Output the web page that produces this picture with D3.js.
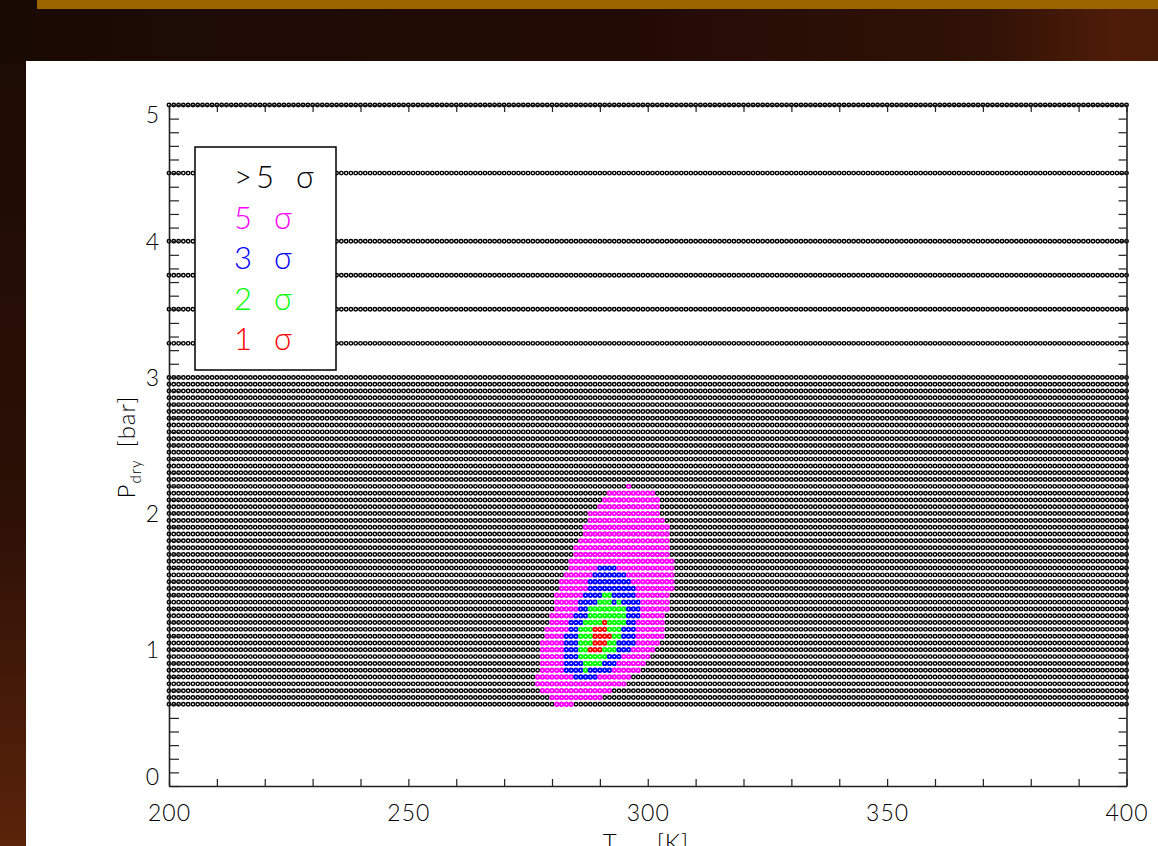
<!DOCTYPE html>
<html>
<head>
<meta charset="utf-8">
<script src="https://cdn.jsdelivr.net/npm/d3@7"></script>
<style>
  body { margin: 0; background: #fff; }
  svg text { font-family: "Lato", "DejaVu Sans", sans-serif; font-weight: 300; }
</style>
</head>
<body>
<svg id="chart" width="1158" height="846"></svg>
<script>
// model grid: surface temperature columns and dry-pressure rows
var tempTicks = [200, 250, 300, 350, 400];
var pressTicks = [0, 1, 2, 3, 4, 5];
var tempGrid = d3.range(200, 401, 1);
var pressRows = [5.0, 4.5, 4.0, 3.75, 3.5, 3.25,
  3.0, 2.95, 2.9, 2.85, 2.8, 2.75, 2.7, 2.65, 2.6, 2.55, 2.5, 2.45, 2.4, 2.35, 2.3, 2.25,
  2.2, 2.15, 2.1, 2.05, 2.0, 1.95, 1.9, 1.85, 1.8, 1.75, 1.7, 1.65, 1.6, 1.55, 1.5, 1.45,
  1.4, 1.35, 1.3, 1.25, 1.2, 1.15, 1.1, 1.05, 1.0, 0.95, 0.9, 0.85, 0.8, 0.75, 0.7, 0.65, 0.6];

// confidence regions: [pressure, Tmin, Tmax] per row
var sigma5 = [
  [2.2, 296, 296], [2.15, 292, 301], [2.1, 291, 302], [2.05, 290, 302], [2.0, 288, 302],
  [1.95, 288, 303], [1.9, 287, 304], [1.85, 287, 304], [1.8, 286, 304], [1.75, 285, 304],
  [1.7, 285, 304], [1.65, 284, 305], [1.6, 284, 305], [1.55, 283, 305], [1.5, 282, 305],
  [1.45, 282, 305], [1.4, 281, 304], [1.35, 281, 304], [1.3, 281, 304], [1.25, 280, 303],
  [1.2, 280, 303], [1.15, 279, 303], [1.1, 279, 303], [1.05, 278, 302], [1.0, 278, 301],
  [0.95, 278, 300], [0.9, 278, 299], [0.85, 278, 298], [0.8, 277, 296], [0.75, 277, 295],
  [0.7, 278, 292], [0.65, 280, 290], [0.6, 281, 284]];
var sigma3 = [
  [1.6, 290, 293], [1.55, 289, 295], [1.5, 288, 296], [1.45, 288, 297], [1.4, 287, 297],
  [1.35, 286, 298], [1.3, 286, 298], [1.25, 285, 298], [1.2, 284, 297], [1.15, 284, 297],
  [1.1, 283, 297], [1.05, 283, 297], [1.0, 283, 296], [0.95, 283, 294], [0.9, 283, 293],
  [0.85, 283, 292], [0.8, 285, 289]];
var sigma2 = [
  [1.4, 291, 292], [1.35, 290, 292], [1.35, 294, 294], [1.3, 288, 295], [1.25, 288, 295],
  [1.2, 287, 295], [1.15, 286, 294], [1.1, 286, 294], [1.05, 286, 293], [1.0, 286, 293],
  [0.95, 286, 291], [0.9, 287, 290], [0.85, 287, 287]];
var sigma1 = [
  [1.2, 291, 291], [1.15, 289, 291], [1.1, 289, 292], [1.05, 289, 291], [1.0, 288, 290]];

var legendNums = [">5", "5", "3", "2", "1"];
var legendColors = ["#000000", "#ff00ff", "#0000ff", "#00ff00", "#ff0000"];

var svg = d3.select("#chart");

// slide background
var defs = svg.append("defs");
var gTop = defs.append("linearGradient").attr("id", "topband");
gTop.append("stop").attr("offset", "0%").attr("stop-color", "#1a0a04");
gTop.append("stop").attr("offset", "55%").attr("stop-color", "#230b05");
gTop.append("stop").attr("offset", "85%").attr("stop-color", "#301206");
gTop.append("stop").attr("offset", "96%").attr("stop-color", "#4e1c08");
gTop.append("stop").attr("offset", "100%").attr("stop-color", "#4a1c08");
var gLeft = defs.append("linearGradient").attr("id", "leftband")
  .attr("x1", 0).attr("y1", 0).attr("x2", 0).attr("y2", 1);
gLeft.append("stop").attr("offset", "0%").attr("stop-color", "#1a0a04");
gLeft.append("stop").attr("offset", "60%").attr("stop-color", "#2c1006");
gLeft.append("stop").attr("offset", "100%").attr("stop-color", "#5a230a");

svg.append("rect").attr("x", 0).attr("y", 0).attr("width", 1158).attr("height", 846).attr("fill", "url(#leftband)");
svg.append("rect").attr("x", 0).attr("y", 0).attr("width", 1158).attr("height", 61).attr("fill", "url(#topband)");
svg.append("rect").attr("x", 37).attr("y", 0).attr("width", 1121).attr("height", 9).attr("fill", "#9c6500");
svg.append("rect").attr("x", 26).attr("y", 61).attr("width", 1132).attr("height", 785).attr("fill", "#ffffff");

var x = d3.scaleLinear().domain([200, 400]).range([169, 1126.5]);
var y = d3.scaleLinear().domain([0, 5]).range([786, 105]);

// colour lookup for each grid point
function regionColor(p, t) {
  var sets = [[sigma1, "#ff0000"], [sigma2, "#00ff00"], [sigma3, "#0000ff"], [sigma5, "#ff00ff"]];
  for (var s = 0; s < sets.length; s++) {
    var rows = sets[s][0];
    for (var k = 0; k < rows.length; k++) {
      if (Math.abs(rows[k][0] - p) < 1e-6 && t >= rows[k][1] && t <= rows[k][2]) return sets[s][1];
    }
  }
  return null;
}

var points = [];
pressRows.forEach(function(p) {
  tempGrid.forEach(function(t) {
    points.push({p: p, t: t, c: regionColor(p, t)});
  });
});

var dots = svg.append("g").attr("class", "dots");
dots.selectAll("circle.black")
  .data(points.filter(function(d) { return !d.c; }))
  .enter().append("circle")
  .attr("class", "black")
  .attr("cx", function(d) { return x(d.t); })
  .attr("cy", function(d) { return y(d.p); })
  .attr("r", 1.75)
  .attr("fill", "none")
  .attr("stroke", "#000")
  .attr("stroke-width", 1.45);
dots.selectAll("circle.col")
  .data(points.filter(function(d) { return d.c; }))
  .enter().append("circle")
  .attr("class", "col")
  .attr("cx", function(d) { return x(d.t); })
  .attr("cy", function(d) { return y(d.p); })
  .attr("r", 1.75)
  .attr("fill", "none")
  .attr("stroke", function(d) { return d.c; })
  .attr("stroke-width", 1.9);

// axes, ticks pointing inward
var minorT = d3.range(20, 41).map(function(i) { return i * 10; });
var minorP = d3.range(0, 51).map(function(i) { return i / 10; });
var fmtT = function(d) { return tempTicks.indexOf(d) >= 0 ? d : ""; };
var fmtP = function(d) { return Math.abs(d - Math.round(d)) < 1e-6 && pressTicks.indexOf(Math.round(d)) >= 0 ? Math.round(d) : ""; };

var axB = svg.append("g").attr("transform", "translate(0,786)")
  .call(d3.axisBottom(x).tickValues(minorT).tickSizeInner(-7).tickSizeOuter(0).tickPadding(19).tickFormat(fmtT));
var axT = svg.append("g").attr("transform", "translate(0,105)")
  .call(d3.axisTop(x).tickValues(minorT).tickSizeInner(-7).tickSizeOuter(0).tickFormat(""));
var axL = svg.append("g").attr("transform", "translate(169,0)")
  .call(d3.axisLeft(y).tickValues(minorP).tickSizeInner(-10).tickSizeOuter(0).tickPadding(9).tickFormat(fmtP));
var axR = svg.append("g").attr("transform", "translate(1126.5,0)")
  .call(d3.axisRight(y).tickValues(minorP).tickSizeInner(-8).tickSizeOuter(0).tickFormat(""));

[axB, axT, axL, axR].forEach(function(a) {
  a.select(".domain").attr("stroke", "#222").attr("stroke-width", 1.6);
  a.selectAll(".tick line").attr("stroke", "#222").attr("stroke-width", 1.2);
  a.selectAll("text").attr("fill", "#000").attr("font-family", null)
    .style("font-size", "23px").style("letter-spacing", "1px");
});
// end labels sit inside the frame
axL.selectAll(".tick text").attr("dy", function(d) {
  if (d === 0) return "-0.05em";
  if (d === 5) return "0.75em";
  return "0.35em";
});

// legend
var leg = svg.append("g").attr("class", "legend");
leg.append("rect").attr("x", 195).attr("y", 147).attr("width", 141).attr("height", 223)
  .attr("fill", "#fff").attr("stroke", "#000").attr("stroke-width", 1.5);
var items = leg.selectAll("text").data(legendNums).enter().append("text")
  .attr("x", 234)
  .attr("y", function(d, i) { return 188 + i * 40.6; })
  .attr("fill", function(d, i) { return legendColors[i]; })
  .style("font-size", "31px");
items.append("tspan").style("letter-spacing", "4px").text(function(d) { return d; });
items.append("tspan").attr("dx", 18).text("\u03c3");

// axis titles
var yt = svg.append("text")
  .attr("transform", "translate(135,447) rotate(-90)")
  .attr("text-anchor", "middle")
  .style("font-size", "24px").style("letter-spacing", "1px");
yt.append("tspan").text("P");
yt.append("tspan").attr("dy", 6).style("font-size", "15px").text("dry");
yt.append("tspan").attr("dy", -6).attr("dx", 12).text("[bar]");

var xt = svg.append("text")
  .attr("x", 646).attr("y", 851)
  .attr("text-anchor", "middle")
  .style("font-size", "24px").style("letter-spacing", "1px");
xt.append("tspan").text("T");
xt.append("tspan").attr("dy", 6).style("font-size", "15px").text("surf");
xt.append("tspan").attr("dy", -6).attr("dx", 10).text("[K]");
</script>
</body>
</html>
